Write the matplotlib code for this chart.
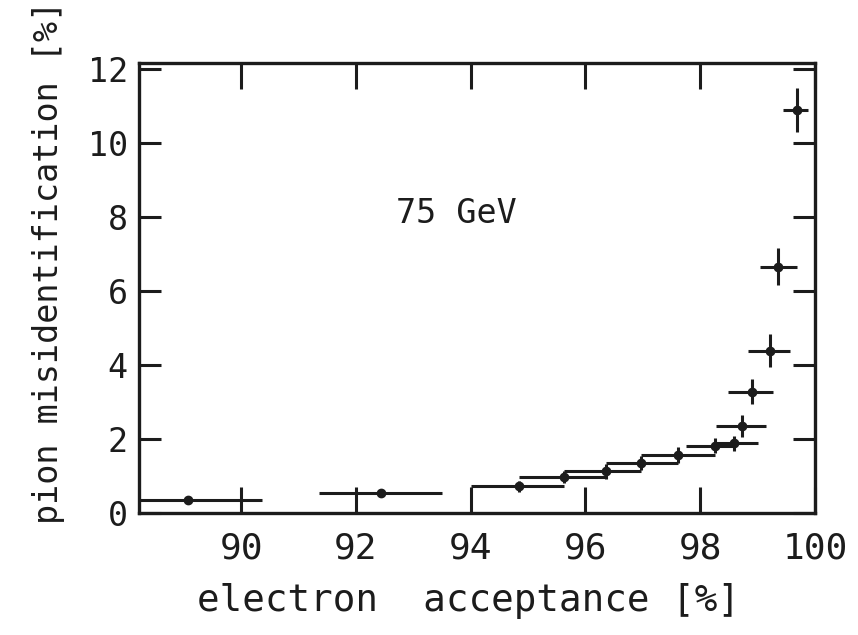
import matplotlib
matplotlib.use("Agg")
import matplotlib.pyplot as plt

plt.rcParams['font.family'] = ['DejaVu Sans Mono']

# electron acceptance [%] and pion misidentification [%] at 75 GeV
acceptance = [89.07, 92.43, 94.84, 95.62, 96.36, 96.97, 97.62, 98.25,
              98.59, 98.72, 98.90, 99.21, 99.35, 99.69]
misid = [0.35, 0.53, 0.72, 0.97, 1.13, 1.35, 1.57, 1.82,
         1.88, 2.36, 3.28, 4.39, 6.66, 10.89]
acc_err_lo = [1.30, 1.07, 0.84, 0.78, 0.74, 0.61, 0.65, 0.50,
              0.34, 0.44, 0.41, 0.37, 0.30, 0.24]
acc_err_hi = [1.30, 1.07, 0.78, 0.74, 0.61, 0.65, 0.63, 0.34,
              0.42, 0.42, 0.37, 0.36, 0.33, 0.19]
misid_err = [0.03, 0.03, 0.14, 0.17, 0.20, 0.20, 0.22, 0.20,
             0.20, 0.30, 0.34, 0.45, 0.50, 0.60]

x_ticks = [90, 92, 94, 96, 98, 100]
y_ticks = [0, 2, 4, 6, 8, 10, 12]

ink = '#1c1c1c'

fig = plt.figure(figsize=(8.58, 6.35), dpi=100)
ax = fig.add_axes([139 / 858, 122 / 635, 676 / 858, 450 / 635])

ax.errorbar(acceptance, misid, xerr=[acc_err_lo, acc_err_hi], yerr=misid_err,
            fmt='o', ms=6, color=ink, ecolor=ink, elinewidth=2.2, capsize=0)

ax.set_xlim(88.22, 100)
ax.set_ylim(0, 12.16)
ax.set_xticks(x_ticks)
ax.set_yticks(y_ticks)

for side in ax.spines.values():
    side.set_linewidth(2.4)
    side.set_color(ink)

ax.tick_params(direction='in', width=2.2, color=ink,
               top=True, right=True, labelcolor=ink)
ax.tick_params(axis='x', labelsize=26, pad=13, length=19)
ax.tick_params(axis='y', labelsize=24, pad=8, length=16)

ax.text(93.75, 8.1, '75 GeV', fontsize=24, color=ink, ha='center', va='center')

ax.set_xlabel('electron  acceptance [%]', fontsize=27, color=ink)
ax.xaxis.set_label_coords(0.488, -0.155)
ax.set_ylabel('pion misidentification [%]', fontsize=24, color=ink)
ax.yaxis.set_label_coords(-0.11, 0.557)

fig.savefig('out.png', dpi=100, facecolor='white')
